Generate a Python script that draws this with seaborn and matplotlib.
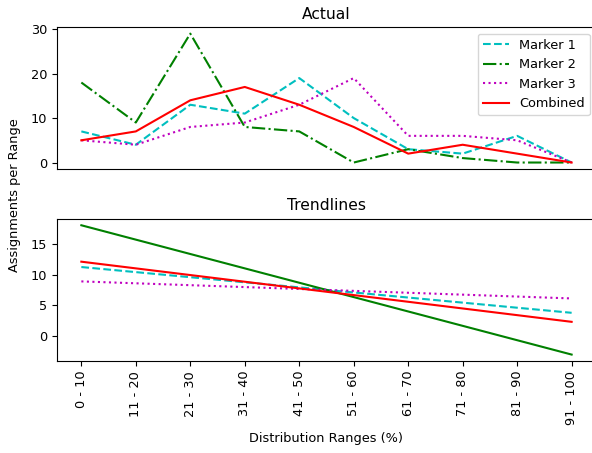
import numpy as np
import pandas as pd
import matplotlib
matplotlib.use("Agg")
import matplotlib.pyplot as plt
import seaborn as sns


# Data
ranges = ["0 - 10", "11 - 20", "21 - 30", "31 - 40", "41 - 50",
          "51 - 60", "61 - 70", "71 - 80", "81 - 90", "91 - 100"]

marker1 = [7, 4, 13, 11, 19, 10, 3, 2, 6, 0]
marker2 = [18, 9, 29, 8, 7, 0, 3, 1, 0, 0]
marker3 = [5, 4, 8, 9, 13, 19, 6, 6, 5, 0]
combined = [5, 7, 14, 17, 13, 8, 2, 4, 2, 0]

series_names = ["Marker 1", "Marker 2", "Marker 3", "Combined"]
series_values = [marker1, marker2, marker3, combined]
colors = ["c", "g", "m", "r"]
styles = ["--", "-.", ":", "-"]
trend_styles = ["--", "-", ":", "-"]


plt.rcParams["font.size"] = 9.3
plt.rcParams["axes.titlesize"] = 11.2

pos = np.arange(len(ranges))

fig = plt.figure(figsize=(5.92, 4.53), dpi=100)
ax1 = fig.add_axes([0.096, 0.627, 0.911, 0.313])
ax2 = fig.add_axes([0.096, 0.203, 0.911, 0.314], sharex=ax1)


# -------------------------------
# 1. Actual values
# -------------------------------

for name, vals, c, ls in zip(series_names, series_values, colors, styles):
    sns.lineplot(x=pos, y=vals, ax=ax1, color=c, linestyle=ls,
                 linewidth=1.5, label=name)

ax1.set_title("Actual")
ax1.set_yticks([0, 10, 20, 30])
ax1.tick_params(axis="x", bottom=False, labelbottom=False)
ax1.legend(loc="upper right")


# -------------------------------
# 2. Trendlines (linear fit)
# -------------------------------

for name, vals, c, ls in zip(series_names, series_values, colors, trend_styles):
    slope, intercept = np.polyfit(pos, vals, 1)
    trend = slope * pos + intercept
    sns.lineplot(x=pos, y=trend, ax=ax2, color=c, linestyle=ls,
                 linewidth=1.5, legend=False)

ax2.set_title("Trendlines")
ax2.set_yticks([0, 5, 10, 15])
ax2.set_xticks(pos)
ax2.set_xticklabels(ranges, rotation=90)
ax2.set_xlabel("Distribution Ranges (%)", labelpad=5)

fig.text(0.025, 0.569, "Assignments per Range", rotation=90,
         ha="center", va="center")

fig.savefig("out.png", dpi=100)
